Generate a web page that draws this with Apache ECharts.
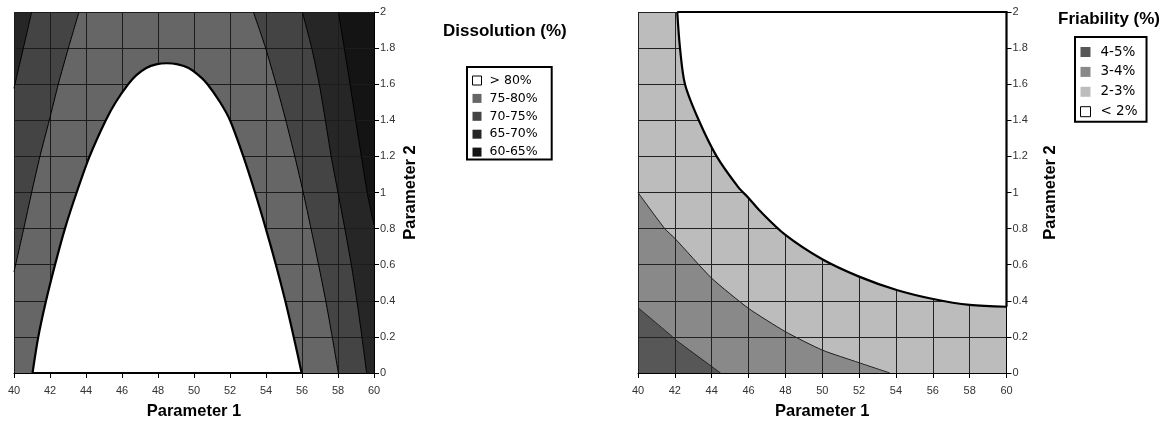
<!DOCTYPE html>
<html><head><meta charset="utf-8">
<script src="https://cdn.jsdelivr.net/npm/echarts@6/dist/echarts.min.js"></script>
<style>html,body{margin:0;padding:0;background:#fff}#c{width:1168px;height:421px}</style>
</head><body><div id="c"></div>
<script>
// ---- axis ticks ----
const X_TICKS = [40, 42, 44, 46, 48, 50, 52, 54, 56, 58, 60];
const Y_TICKS = [0, 0.2, 0.4, 0.6, 0.8, 1, 1.2, 1.4, 1.6, 1.8, 2];

// ---- Dissolution (%) contour boundaries [Parameter 1, Parameter 2] ----
const DIS_LEGEND = ['> 80%', '75-80%', '70-75%', '65-70%', '60-65%'];
const DIS_70_LEFT = [[40.98, 2], [40.52, 1.8], [40, 1.577]];
const DIS_75_LEFT = [[43.61, 2], [43.02, 1.8], [42.46, 1.6], [41.96, 1.4], [41.44, 1.2], [40.98, 1.0], [40.52, 0.79], [40, 0.56]];
const DIS_75_RIGHT = [[53.3, 2], [53.98, 1.8], [54.56, 1.6], [55.1, 1.4], [55.6, 1.2], [56.07, 1.0], [56.5, 0.8], [56.92, 0.6], [57.32, 0.4], [57.68, 0.2], [58.02, 0]];
const DIS_70_RIGHT = [[56.02, 2], [56.54, 1.8], [56.96, 1.6], [57.3, 1.4], [57.62, 1.2], [58.0, 1.0], [58.38, 0.8], [58.74, 0.6], [59.05, 0.4], [59.33, 0.2], [59.59, 0]];
const DIS_65_RIGHT = [[58.02, 2], [58.35, 1.8], [58.67, 1.6], [58.98, 1.4], [59.3, 1.2], [59.62, 1.0], [60, 0.82]];
const DIS_80 = [[41.03, 0], [41.35, 0.2], [41.78, 0.4], [42.28, 0.6], [42.83, 0.8], [43.48, 1.0], [44.2, 1.2], [45.1, 1.4], [45.65, 1.5], [46.35, 1.6], [46.8, 1.65], [47.35, 1.69], [47.9, 1.71], [48.48, 1.716], [49.1, 1.71], [49.7, 1.69], [50.25, 1.65], [50.75, 1.6], [51.45, 1.5], [52.0, 1.4], [52.74, 1.2], [53.39, 1.0], [53.99, 0.8], [54.55, 0.6], [55.07, 0.4], [55.54, 0.2], [55.98, 0]];

// ---- Friability (%) contour boundaries ----
const FRI_LEGEND = ['4-5%', '3-4%', '2-3%', '< 2%'];
const FRI_4 = [[40, 0.362], [41.88, 0.2], [42, 0.187], [44.48, 0]];
const FRI_3 = [[40, 1.0], [41.45, 0.8], [42, 0.746], [44, 0.525], [46, 0.358], [48, 0.229], [50, 0.127], [52, 0.057], [53.67, 0]];
const FRI_2 = [[42.13, 2], [42.28, 1.8], [42.55, 1.6], [43.3, 1.4], [44.27, 1.2], [45.44, 1.03], [46, 0.97], [46.6, 0.9], [48, 0.765], [50, 0.63], [52, 0.534], [54.04, 0.46], [56.02, 0.41], [58, 0.377], [60, 0.367]];

// ---- styles ----
const DIS_COLORS = { '> 80%': '#ffffff', '75-80%': '#666666', '70-75%': '#444444', '65-70%': '#262626', '60-65%': '#141414' };
const FRI_COLORS = { '4-5%': '#575757', '3-4%': '#898989', '2-3%': '#bcbcbc', '< 2%': '#ffffff' };

const XMIN = X_TICKS[0], XMAX = X_TICKS[X_TICKS.length - 1];
const YMIN = Y_TICKS[0], YMAX = Y_TICKS[Y_TICKS.length - 1];
const RECT = [[XMIN, YMIN], [XMAX, YMIN], [XMAX, YMAX], [XMIN, YMAX]];
const rev = a => a.slice().reverse();

function region(name, gi, pts, color, z) {
  return {
    type: 'custom', name, xAxisIndex: gi, yAxisIndex: gi, z, silent: true,
    itemStyle: { color }, data: [pts[0]],
    renderItem: (p, api) => ({
      type: 'polygon', shape: { points: pts.map(q => api.coord(q)) },
      style: { fill: color, stroke: null }
    })
  };
}
function lines(name, gi, list, color, z) {
  return {
    type: 'custom', name, xAxisIndex: gi, yAxisIndex: gi, z, silent: true,
    data: [list[0][0]],
    renderItem: (p, api) => ({
      type: 'group', children: list.map(l => ({
        type: 'polyline', shape: { points: l.map(q => api.coord(q)), smooth: 0.2 },
        style: { stroke: color, lineWidth: 1, fill: null }
      }))
    })
  };
}
function whiteRegion(name, gi, poly, curve, straight, z) {
  return {
    type: 'custom', name, xAxisIndex: gi, yAxisIndex: gi, z, silent: true,
    itemStyle: { color: '#ffffff' }, data: [poly[0]],
    renderItem: (p, api) => ({
      type: 'group', children: [
        { type: 'polygon', shape: { points: poly.map(q => api.coord(q)) }, style: { fill: '#ffffff', stroke: null } },
        { type: 'polyline', shape: { points: curve.map(q => api.coord(q)), smooth: 0.3 }, style: { stroke: '#000', lineWidth: 2.2, fill: null } },
        { type: 'polyline', shape: { points: straight.map(q => api.coord(q)) }, style: { stroke: '#000', lineWidth: 2.2, fill: null, lineJoin: 'miter' } }
      ]
    })
  };
}

const AX_FONT = 'Liberation Sans, Arial, sans-serif';
function xAxisCfg(gi, gridColor) {
  return {
    gridIndex: gi, type: 'value', min: XMIN, max: XMAX, interval: X_TICKS[1] - X_TICKS[0], z: 3,
    axisLine: { show: true, onZero: false, lineStyle: { color: '#000', width: 1 } },
    axisTick: { show: true, length: 5, lineStyle: { color: '#000' } },
    axisLabel: { margin: 12, fontSize: 11, color: '#333', fontFamily: AX_FONT },
    splitLine: { show: true, lineStyle: { color: gridColor, width: 1 } },
    name: 'Parameter 1', nameLocation: 'middle', nameGap: 30,
    nameTextStyle: { fontFamily: AX_FONT, fontWeight: 'bold', fontSize: 16.5, color: '#000' }
  };
}
function yAxisCfg(gi, gridColor, gap) {
  return {
    gridIndex: gi, type: 'value', position: 'right', min: YMIN, max: YMAX, interval: Y_TICKS[1] - Y_TICKS[0], z: 3,
    axisLine: { show: true, lineStyle: { color: '#000', width: 1 } },
    axisTick: { show: true, length: 5, lineStyle: { color: '#000' } },
    axisLabel: { margin: 6, fontSize: 11, color: '#333', fontFamily: AX_FONT },
    splitLine: { show: true, lineStyle: { color: gridColor, width: 1 } },
    name: 'Parameter 2', nameLocation: 'middle', nameGap: gap,
    nameTextStyle: { fontFamily: AX_FONT, fontWeight: 'bold', fontSize: 16.5, color: '#000' }
  };
}

const TITLE_STYLE = { fontFamily: AX_FONT, fontWeight: 'bold', fontSize: 17, color: '#000' };
const LEG_FONT = 'DejaVu Sans, Verdana, sans-serif';

const option = {
  animation: false,
  backgroundColor: '#fff',
  title: [
    { text: 'Dissolution (%)', left: 443, top: 23, padding: 0, textStyle: TITLE_STYLE },
    { text: 'Friability (%)', left: 1058, top: 11, padding: 0, textStyle: TITLE_STYLE }
  ],
  legend: [
    {
      orient: 'vertical', left: 467, top: 67, padding: [7, 14, 1, 5],
      borderColor: '#000', borderWidth: 2, itemWidth: 9, itemHeight: 9, itemGap: 4.9, icon: 'rect',
      selectedMode: false,
      textStyle: { fontFamily: LEG_FONT, fontSize: 12.5, color: '#000', padding: [0, 0, 0, 3] },
      data: DIS_LEGEND.map(n => n === '> 80%'
        ? { name: n, itemStyle: { color: '#fff', borderColor: '#000', borderWidth: 1 } }
        : { name: n, itemStyle: { color: DIS_COLORS[n], borderWidth: 0 } })
    },
    {
      orient: 'vertical', left: 1075, top: 37, padding: [8, 9, 3, 5],
      borderColor: '#000', borderWidth: 2, itemWidth: 10, itemHeight: 10, itemGap: 5.9, icon: 'rect',
      selectedMode: false,
      textStyle: { fontFamily: LEG_FONT, fontSize: 13.5, color: '#000', padding: [0, 0, 0, 5] },
      data: FRI_LEGEND.map(n => n === '< 2%'
        ? { name: n, itemStyle: { color: '#fff', borderColor: '#000', borderWidth: 1 } }
        : { name: n, itemStyle: { color: FRI_COLORS[n], borderWidth: 0 } })
    }
  ],
  grid: [
    { left: 14, top: 12, width: 360, height: 361, outerBoundsMode: 'none', containLabel: false },
    { left: 638, top: 12, width: 368.5, height: 361, outerBoundsMode: 'none', containLabel: false }
  ],
  xAxis: [xAxisCfg(0, '#1c1c1c'), xAxisCfg(1, '#222222')],
  yAxis: [yAxisCfg(0, '#1c1c1c', 28), yAxisCfg(1, '#222222', 35)],
  series: [
    // Dissolution
    region('65-70%', 0, RECT, DIS_COLORS['65-70%'], 1),
    region('70-75%', 0, [...DIS_70_RIGHT, [XMIN, YMIN], ...rev(DIS_70_LEFT)], DIS_COLORS['70-75%'], 1),
    region('75-80%', 0, [...DIS_75_RIGHT, [XMIN, YMIN], ...rev(DIS_75_LEFT)], DIS_COLORS['75-80%'], 1),
    region('60-65%', 0, [...DIS_65_RIGHT, [XMAX, YMAX]], DIS_COLORS['60-65%'], 1),
    lines('dis-contours', 0, [DIS_70_LEFT, DIS_75_LEFT, DIS_75_RIGHT, DIS_70_RIGHT, DIS_65_RIGHT], '#000', 4),
    whiteRegion('> 80%', 0, DIS_80, DIS_80, [DIS_80[0], DIS_80[DIS_80.length - 1]], 5),
    // Friability
    region('2-3%', 1, RECT, FRI_COLORS['2-3%'], 1),
    region('3-4%', 1, [...FRI_3, [XMIN, YMIN]], FRI_COLORS['3-4%'], 1),
    region('4-5%', 1, [...FRI_4, [XMIN, YMIN]], FRI_COLORS['4-5%'], 1),
    lines('fri-contours', 1, [FRI_3, FRI_4], '#222', 4),
    whiteRegion('< 2%', 1, [...FRI_2, [XMAX, YMAX]], FRI_2, [FRI_2[FRI_2.length - 1], [XMAX, YMAX], FRI_2[0]], 5)
  ]
};

const chart = echarts.init(document.getElementById('c'), null, { renderer: 'canvas' });
chart.setOption(option);
</script>
</body></html>
